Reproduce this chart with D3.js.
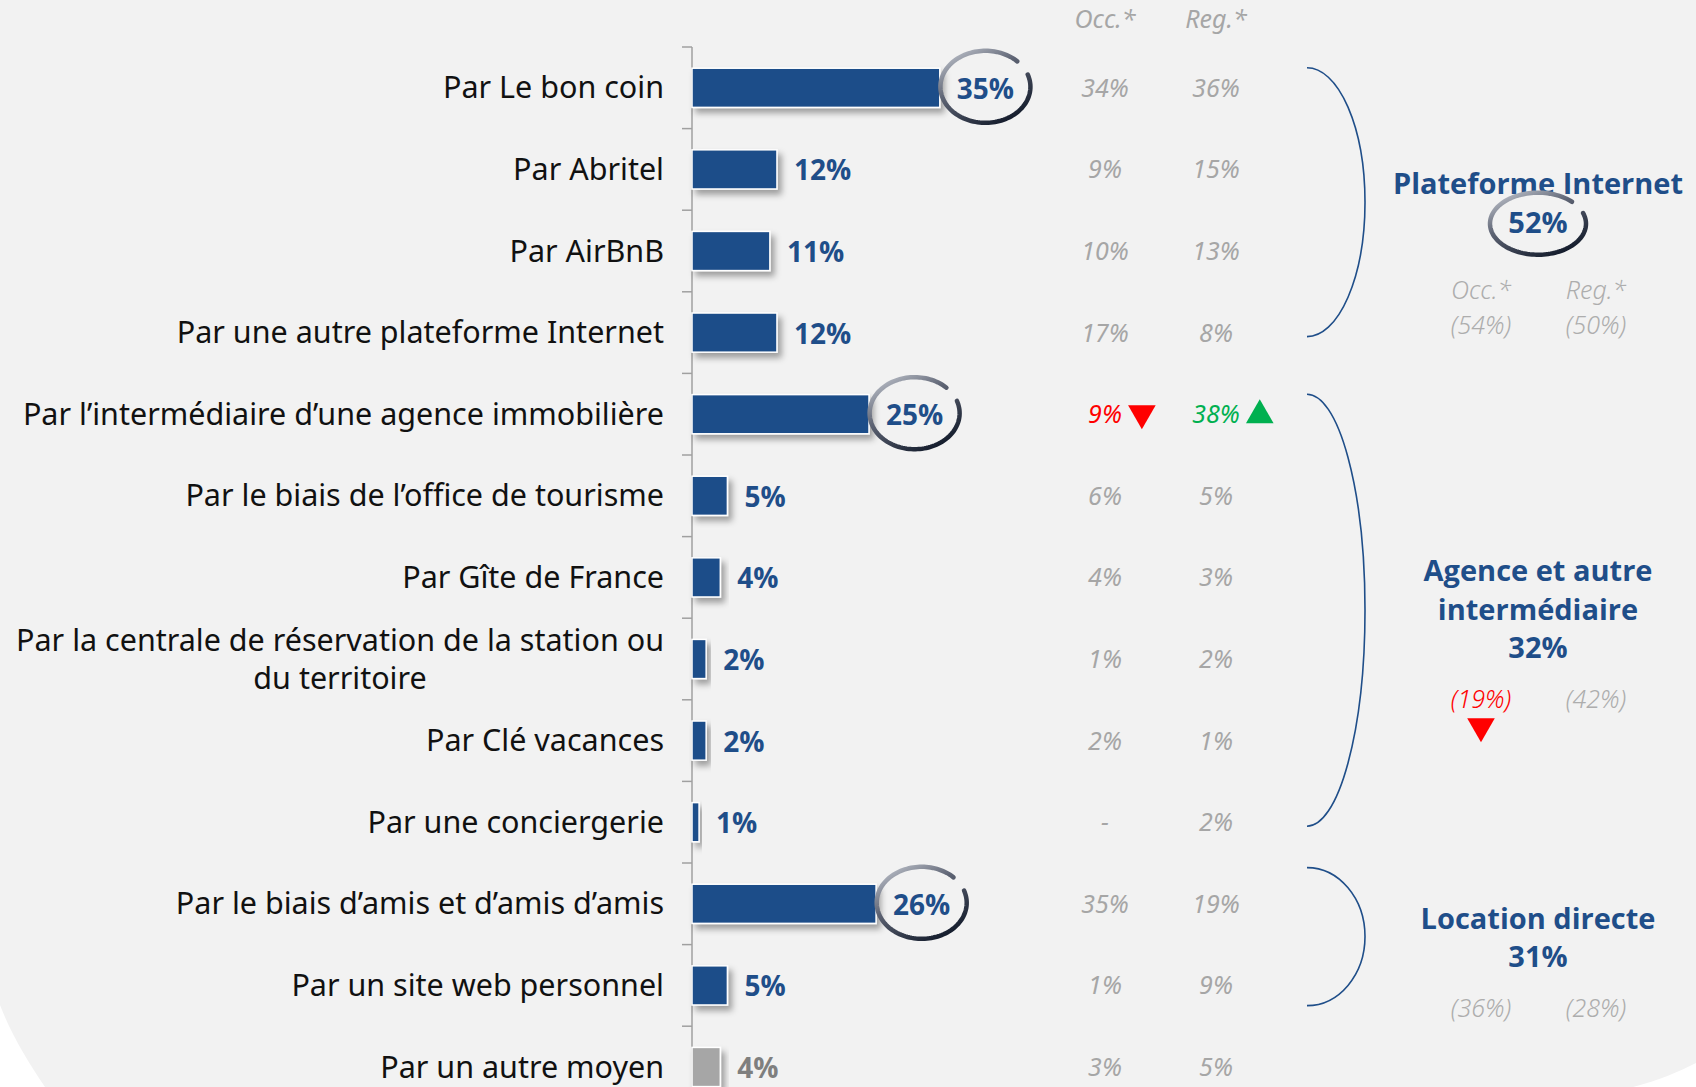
<!DOCTYPE html>
<html>
<head>
<meta charset="utf-8">
<script src="https://cdn.jsdelivr.net/npm/d3@7"></script>
<style>
body { margin: 0; background: #fff; }
svg { display: block; }
</style>
</head>
<body>
<svg id="chart" width="1696" height="1087"></svg>
<script>
// ==================================
// Data
// ==================================
var CATEGORIES = [
	"Par Le bon coin",
	"Par Abritel",
	"Par AirBnB",
	"Par une autre plateforme Internet",
	"Par l\u2019intermédiaire d\u2019une agence immobilière",
	"Par le biais de l\u2019office de tourisme",
	"Par Gîte de France",
	"Par la centrale de réservation de la station ou\ndu territoire",
	"Par Clé vacances",
	"Par une conciergerie",
	"Par le biais d\u2019amis et d\u2019amis d\u2019amis",
	"Par un site web personnel",
	"Par un autre moyen"
];
var VALUES = [35, 12, 11, 12, 25, 5, 4, 2, 2, 1, 26, 5, 4];
var OCC = [34, 9, 10, 17, 9, 6, 4, 1, 2, null, 35, 1, 3];
var REG = [36, 15, 13, 8, 38, 5, 3, 2, 1, 2, 19, 9, 5];
var OCC_TREND = [null, null, null, null, "down", null, null, null, null, null, null, null, null];
var REG_TREND = [null, null, null, null, "up", null, null, null, null, null, null, null, null];
var CIRCLED = ["Par Le bon coin", "Par l\u2019intermédiaire d\u2019une agence immobilière", "Par le biais d\u2019amis et d\u2019amis d\u2019amis"];
var GREY_ROWS = ["Par un autre moyen"];
var COLUMN_HEADERS = ["Occ.*", "Reg.*"];

var GROUP_TITLES = [["Plateforme Internet"], ["Agence et autre", "intermédiaire"], ["Location directe"]];
var GROUP_VALUES = [52, 32, 31];
var GROUP_OCC = [54, 19, 36];
var GROUP_REG = [50, 42, 28];
var GROUP_OCC_TREND = [null, "down", null];
var GROUP_FIRST = [0, 4, 10];
var GROUP_LAST = [3, 9, 11];
var GROUP_CIRCLED = [true, false, false];
var GROUP_HEADERS = [true, false, false];

// ==================================
// Constants
// ==================================
var W = 1696, H = 1087;
var BLUE = "#1F4E89";
var GREY_TXT = "#A6A6A6";
var SUB_GREY = "#ADADAD";
var RED = "#FF0000";
var GREEN = "#00B050";
var AXIS_X = 692;
var LABEL_RIGHT = 664;
var OCC_X = 1105, REG_X = 1216;
var GROUP_X = 1538, GROUP_OCC_X = 1481, GROUP_REG_X = 1596;
var BRACKET_LEFT = 1307, BRACKET_RX = 58;

var svg = d3.select("#chart");

// background: grey panel with rounded bottom corners
svg.append("rect").attr("width", W).attr("height", H).attr("fill", "#fff");
svg.append("path")
	.attr("d", "M0,0 H" + W + " V1063 C1680,1071 1660,1080 1633,1087 H45 C28,1062 12,1036 0,1005 Z")
	.attr("fill", "#F2F2F2");

var defs = svg.append("defs");
var shadow = defs.append("filter").attr("id", "shadow")
	.attr("x", "-20%").attr("y", "-30%").attr("width", "150%").attr("height", "180%");
shadow.append("feDropShadow")
	.attr("dx", 4).attr("dy", 5).attr("stdDeviation", 3)
	.attr("flood-color", "#000").attr("flood-opacity", 0.35);

var ringGrad = defs.append("linearGradient").attr("id", "ringGrad")
	.attr("x1", "0%").attr("y1", "0%").attr("x2", "70%").attr("y2", "100%");
ringGrad.append("stop").attr("offset", "0%").attr("stop-color", "#C8CCD4");
ringGrad.append("stop").attr("offset", "45%").attr("stop-color", "#5E6474");
ringGrad.append("stop").attr("offset", "100%").attr("stop-color", "#161E2E");

// ==================================
// Scales
// ==================================
var y = d3.scaleBand()
	.domain(d3.range(CATEGORIES.length))
	.range([47, 47 + 81.6 * CATEGORIES.length])
	.paddingInner(0.52)
	.paddingOuter(0.26);
var step = y.step();
function rowCenter(i) { return y(i) + y.bandwidth() / 2; }
function rowStart(i) { return rowCenter(i) - step / 2; }

var x = d3.scaleLinear().domain([0, 100]).range([AXIS_X, AXIS_X + 708]);

// ==================================
// Axis
// ==================================
var axisG = svg.append("g");
axisG.append("line")
	.attr("x1", AXIS_X).attr("x2", AXIS_X)
	.attr("y1", rowStart(0)).attr("y2", H)
	.attr("stroke", "#A0A0A0").attr("stroke-width", 1.5);
axisG.selectAll("line.tick")
	.data(d3.range(CATEGORIES.length))
	.enter().append("line")
	.attr("class", "tick")
	.attr("x1", AXIS_X - 10).attr("x2", AXIS_X)
	.attr("y1", function(i) { return rowStart(i); })
	.attr("y2", function(i) { return rowStart(i); })
	.attr("stroke", "#A0A0A0").attr("stroke-width", 1.5);

// ==================================
// Category labels
// ==================================
var labels = svg.append("g").selectAll("text")
	.data(CATEGORIES)
	.enter().append("text")
	.attr("font-family", "'Noto Sans', sans-serif")
	.attr("font-size", 26)
	.attr("fill", "#111");

// fit the label font so the widest line spans the space left of the axis
var widest = 0;
labels.each(function(d) {
	var t = d3.select(this);
	d.split("\n").forEach(function(line) {
		var s = t.append("tspan").text(line);
		widest = Math.max(widest, s.node().getComputedTextLength());
	});
});
var labelSize = 26 * 648 / widest;
labels.attr("font-size", labelSize);

// wrapped labels are drawn as separate texts so their lines do not collide
labels.each(function(d, i) {
	var t = d3.select(this);
	var lines = d.split("\n");
	var n = lines.length;
	if (n === 1) {
		t.attr("text-anchor", "end");
		t.select("tspan")
			.attr("x", LABEL_RIGHT)
			.attr("y", rowCenter(i))
			.attr("dy", "0.35em");
		return;
	}
	var w = t.select("tspan").node().getComputedTextLength();
	t.remove();
	lines.forEach(function(line, k) {
		svg.append("text")
			.attr("font-family", "'Noto Sans', sans-serif")
			.attr("font-size", labelSize)
			.attr("fill", "#111")
			.attr("text-anchor", "middle")
			.attr("x", LABEL_RIGHT - w / 2)
			.attr("y", rowCenter(i) + (k - (n - 1) / 2) * 38)
			.attr("dy", "0.35em")
			.text(line);
	});
});

// ==================================
// Bars
// ==================================
svg.append("g").selectAll("rect")
	.data(VALUES)
	.enter().append("rect")
	.attr("x", x(0))
	.attr("y", function(d, i) { return y(i); })
	.attr("width", function(d) { return x(d) - x(0); })
	.attr("height", y.bandwidth())
	.attr("fill", function(d, i) { return GREY_ROWS.indexOf(CATEGORIES[i]) >= 0 ? "#A6A6A6" : BLUE; })
	.attr("stroke", "#fff")
	.attr("stroke-width", 1.5)
	.attr("filter", "url(#shadow)");

// ==================================
// Ring highlight
// ==================================
function drawRing(g, cx, cy, rx, ry)
{
	var a0 = -20 * Math.PI / 180;
	var a1 = a0 + 335 * Math.PI / 180;
	var pts = d3.range(0, 1.0001, 1 / 120).map(function(t) {
		var a = a0 + (a1 - a0) * t;
		return [cx + rx * Math.cos(a), cy + ry * Math.sin(a)];
	});
	g.append("path")
		.attr("d", d3.line()(pts))
		.attr("fill", "none")
		.attr("stroke", "url(#ringGrad)")
		.attr("stroke-width", 4.5)
		.attr("stroke-linecap", "round");
}

// ==================================
// Value labels
// ==================================
var valG = svg.append("g");
VALUES.forEach(function(v, i) {
	var grey = GREY_ROWS.indexOf(CATEGORIES[i]) >= 0;
	var t = valG.append("text")
		.attr("x", x(v) + 17)
		.attr("y", rowCenter(i) + 11)
		.attr("font-family", "'Open Sans', sans-serif")
		.attr("font-weight", 700)
		.attr("font-size", 28)
		.attr("fill", grey ? "#7F7F7F" : BLUE)
		.text(v + "%");
	if (CIRCLED.indexOf(CATEGORIES[i]) >= 0) {
		var w = t.node().getComputedTextLength();
		drawRing(valG, x(v) + 17 + w / 2, rowCenter(i) - 1, 45, 36);
	}
});

// ==================================
// Comparison columns
// ==================================
function trendMark(g, cx, cy, dir, size)
{
	g.append("path")
		.attr("d", d3.symbol(d3.symbolTriangle, size)())
		.attr("transform", "translate(" + cx + "," + cy + ") rotate(" + (dir === "down" ? 180 : 0) + ")")
		.attr("fill", dir === "down" ? RED : GREEN);
}

var colG = svg.append("g")
	.attr("font-family", "'Noto Sans', sans-serif")
	.attr("font-style", "italic")
	.attr("font-size", 25)
	.attr("text-anchor", "middle");

[OCC_X, REG_X].forEach(function(cx, k) {
	colG.append("text").attr("x", cx).attr("y", 28)
		.attr("fill", GREY_TXT).text(COLUMN_HEADERS[k]);
});

function drawColumn(values, trends, cx)
{
	values.forEach(function(v, i) {
		var dir = trends[i];
		var t = colG.append("text")
			.attr("x", cx)
			.attr("y", rowCenter(i) + 9)
			.attr("fill", dir === "down" ? RED : dir === "up" ? GREEN : GREY_TXT)
			.text(v === null ? "-" : v + "%");
		if (dir) {
			var w = t.node().getComputedTextLength();
			trendMark(colG, cx + w / 2 + 20, rowCenter(i) + (dir === "down" ? -1 : 1), dir, 330);
		}
	});
}
drawColumn(OCC, OCC_TREND, OCC_X);
drawColumn(REG, REG_TREND, REG_X);

// ==================================
// Group brackets and summaries
// ==================================
var grpG = svg.append("g");
GROUP_TITLES.forEach(function(title, gi) {
	var c0 = rowCenter(GROUP_FIRST[gi]), c1 = rowCenter(GROUP_LAST[gi]);
	var cy = (c0 + c1) / 2 - 8;
	var ry = Math.max((c1 - c0) / 2 + 12, 69);
	var top = cy - ry, bottom = cy + ry;

	grpG.append("path")
		.attr("d", "M" + BRACKET_LEFT + "," + top + " A" + BRACKET_RX + "," + ry + " 0 0 1 " + BRACKET_LEFT + "," + bottom)
		.attr("fill", "none")
		.attr("stroke", BLUE)
		.attr("stroke-width", 1.6);

	var lines = title.concat([GROUP_VALUES[gi] + "%"]);
	var first = cy - 8 - (lines.length - 2) * 21;
	lines.forEach(function(line, k) {
		grpG.append("text")
			.attr("x", GROUP_X)
			.attr("y", first + k * 38.5)
			.attr("text-anchor", "middle")
			.attr("font-family", "'Open Sans', sans-serif")
			.attr("font-weight", 700)
			.attr("font-size", 29)
			.attr("fill", BLUE)
			.text(line);
	});
	var pctY = first + (lines.length - 1) * 38.5;
	if (GROUP_CIRCLED[gi]) {
		drawRing(grpG, GROUP_X, pctY - 9, 48, 31);
	}

	var subY = pctY + 50;
	var sub = grpG.append("g")
		.attr("font-family", "'Noto Sans', sans-serif")
		.attr("font-style", "italic")
		.attr("font-weight", 300)
		.attr("font-size", 25)
		.attr("text-anchor", "middle")
		.attr("fill", SUB_GREY);
	if (GROUP_HEADERS[gi]) {
		sub.append("text").attr("x", GROUP_OCC_X).attr("y", pctY + 66).text(COLUMN_HEADERS[0]);
		sub.append("text").attr("x", GROUP_REG_X).attr("y", pctY + 66).text(COLUMN_HEADERS[1]);
		subY = pctY + 101;
	}
	sub.append("text").attr("x", GROUP_OCC_X).attr("y", subY)
		.attr("fill", GROUP_OCC_TREND[gi] === "down" ? RED : SUB_GREY)
		.text("(" + GROUP_OCC[gi] + "%)");
	sub.append("text").attr("x", GROUP_REG_X).attr("y", subY)
		.text("(" + GROUP_REG[gi] + "%)");
	if (GROUP_OCC_TREND[gi]) {
		trendMark(grpG, GROUP_OCC_X, subY + 18, GROUP_OCC_TREND[gi], 330);
	}
});
</script>
</body>
</html>
